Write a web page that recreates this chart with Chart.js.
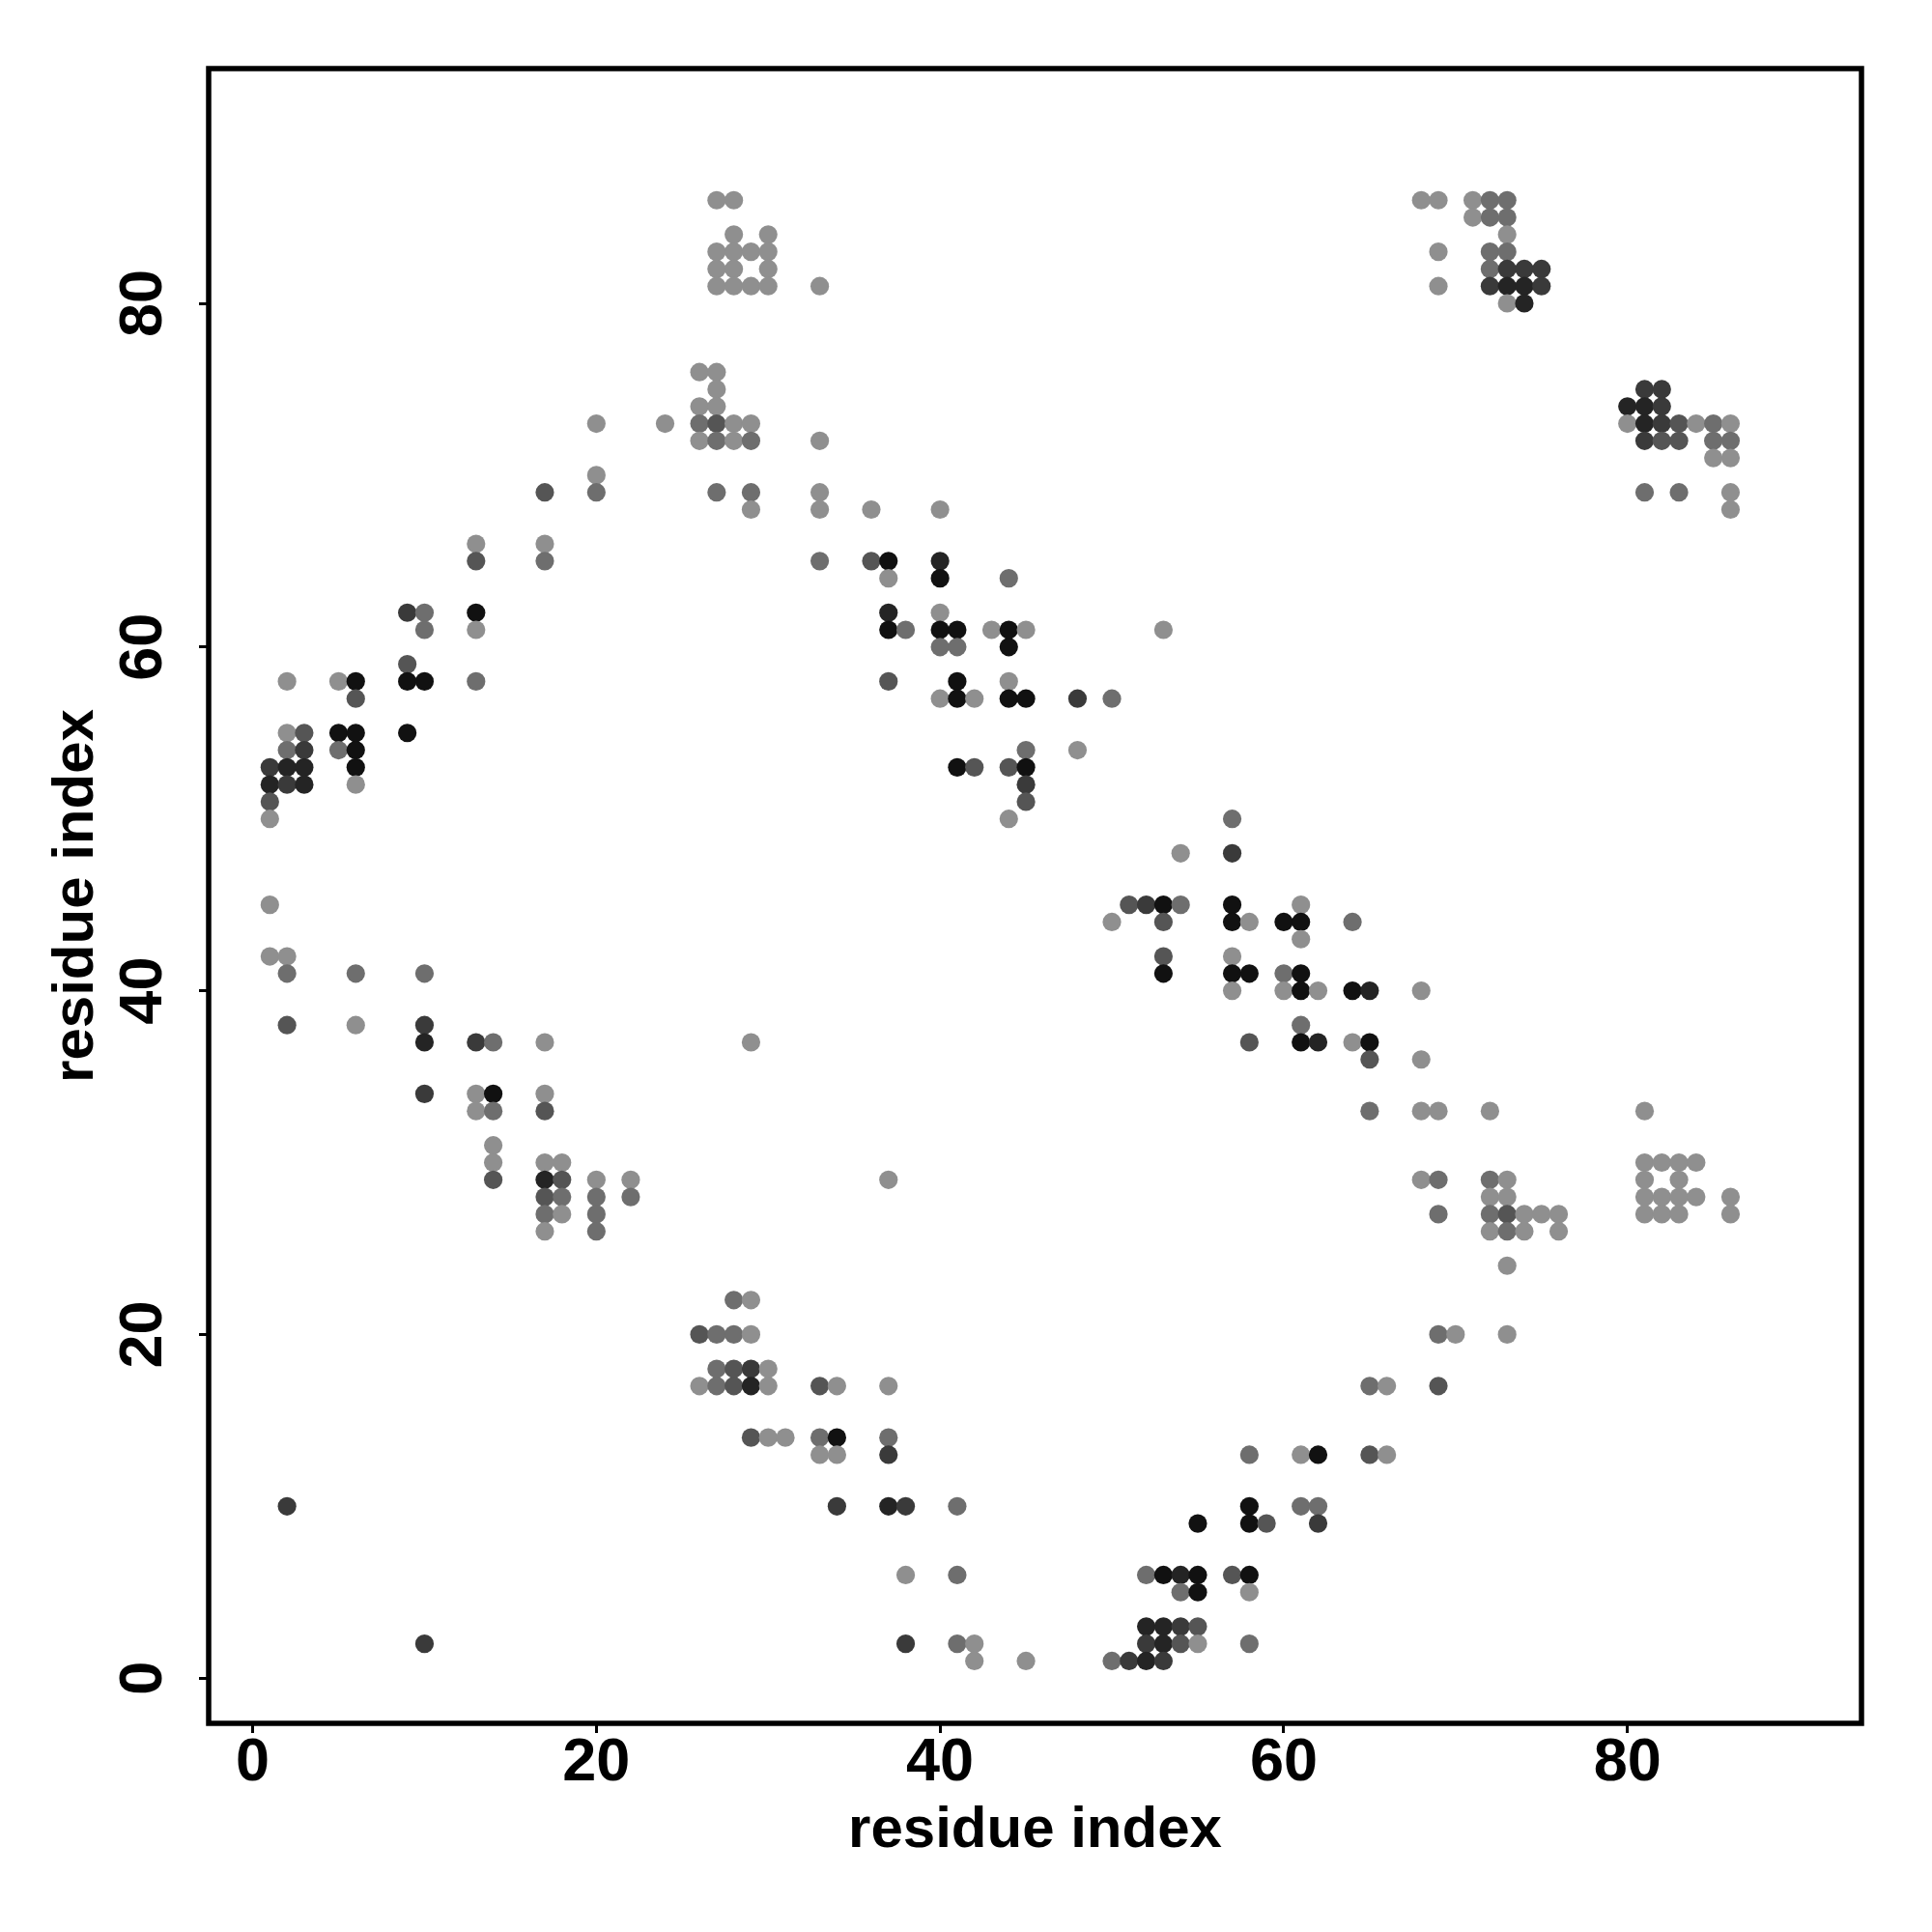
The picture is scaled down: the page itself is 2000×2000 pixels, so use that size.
<!DOCTYPE html>
<html>
<head>
<meta charset="utf-8">
<title>Contact map</title>
<script src="https://cdn.jsdelivr.net/npm/chart.js@4/dist/chart.umd.min.js"></script>
<style>
    body { margin: 0; background: #ffffff; }
    #contactChart { display: block; }
</style>
</head>
<body>
<canvas id="contactChart" width="2000" height="2000"></canvas>
<script>
// Contact map, one row per y residue index.
// rowX = x residue indices in that row, rowShade = grey level (1 darkest .. 6 lightest)
const rowY = [86, 85, 84, 83, 82, 81, 80, 76, 75, 74, 73, 72, 71, 70, 69, 68, 66, 65, 64, 62, 61, 60, 59, 58, 57,
    55, 54, 53, 52, 51, 50, 48, 45, 44, 43, 42, 41, 40, 38, 37, 36, 34, 33, 31, 30, 29, 28, 27, 26, 24, 22, 20,
    18, 17, 14, 13, 10, 9, 6, 5, 3, 2, 1];

const rowX = [
    [27, 28, 68, 69, 71, 72, 73],
    [71, 72, 73],
    [28, 30, 73],
    [27, 28, 29, 30, 69, 72, 73],
    [27, 28, 30, 72, 73, 74, 75],
    [27, 28, 29, 30, 33, 69, 72, 73, 74, 75],
    [73, 74],
    [26, 27],
    [27, 81, 82],
    [26, 27, 80, 81, 82],
    [20, 24, 26, 27, 28, 29, 80, 81, 82, 83, 84, 85, 86],
    [26, 27, 28, 29, 33, 81, 82, 83, 85, 86],
    [85, 86],
    [20],
    [17, 20, 27, 29, 33, 81, 83, 86],
    [29, 33, 36, 40, 86],
    [13, 17],
    [13, 17, 33, 36, 37, 40],
    [37, 40, 44],
    [9, 10, 13, 37, 40],
    [10, 13, 37, 38, 40, 41, 43, 44, 45, 53],
    [40, 41, 44],
    [9],
    [2, 5, 6, 9, 10, 13, 37, 41, 44],
    [6, 40, 41, 42, 44, 45, 48, 50],
    [2, 3, 5, 6, 9],
    [2, 3, 5, 6, 45, 48],
    [1, 2, 3, 6, 41, 42, 44, 45],
    [1, 2, 3, 6, 45],
    [1, 45],
    [1, 44, 57],
    [54, 57],
    [1, 51, 52, 53, 54, 57, 61],
    [50, 53, 57, 58, 60, 61, 64],
    [61],
    [1, 2, 53, 57],
    [2, 6, 10, 53, 57, 58, 60, 61],
    [57, 60, 61, 62, 64, 65, 68],
    [2, 6, 10, 61],
    [10, 13, 14, 17, 29, 58, 61, 62, 64, 65],
    [65, 68],
    [10, 13, 14, 17],
    [13, 14, 17, 65, 68, 69, 72, 81],
    [14],
    [14, 17, 18, 81, 82, 83, 84],
    [14, 17, 18, 20, 22, 37, 68, 69, 72, 73, 81, 83],
    [17, 18, 20, 22, 72, 73, 81, 82, 83, 84, 86],
    [17, 18, 20, 69, 72, 73, 74, 75, 76, 81, 82, 83, 86],
    [17, 20, 72, 73, 74, 76],
    [73],
    [28, 29],
    [26, 27, 28, 29, 69, 70, 73],
    [27, 28, 29, 30],
    [26, 27, 28, 29, 30, 33, 34, 37, 65, 66, 69],
    [29, 30, 31, 33, 34, 37],
    [33, 34, 37, 58, 61, 62, 65, 66],
    [2, 34, 37, 38, 41, 58, 61, 62],
    [55, 58, 59, 62],
    [38, 41, 52, 53, 54, 55, 57, 58],
    [54, 55, 58],
    [52, 53, 54, 55],
    [10, 38, 41, 42, 52, 53, 54, 55, 58],
    [42, 45, 50, 51, 52, 53]
];

const rowShade = [
    [6, 6, 6, 6, 6, 5, 5],
    [6, 5, 5],
    [6, 6, 6],
    [6, 6, 6, 6, 6, 5, 5],
    [6, 6, 6, 5, 3, 3, 3],
    [6, 6, 6, 6, 6, 6, 3, 2, 2, 3],
    [6, 2],
    [6, 6],
    [6, 3, 3],
    [6, 6, 2, 2, 3],
    [6, 6, 5, 4, 6, 6, 6, 2, 3, 4, 6, 5, 6],
    [6, 5, 6, 5, 6, 3, 4, 4, 5, 5],
    [6, 6],
    [6],
    [4, 5, 5, 5, 6, 5, 5, 6],
    [6, 6, 6, 6, 6],
    [6, 6],
    [4, 5, 5, 4, 1, 2],
    [6, 1, 5],
    [3, 5, 1, 2, 6],
    [5, 6, 1, 5, 1, 1, 6, 1, 6, 6],
    [5, 5, 1],
    [4],
    [6, 6, 1, 1, 1, 5, 4, 1, 6],
    [4, 6, 1, 6, 1, 1, 3, 5],
    [6, 4, 1, 1, 1],
    [5, 3, 5, 1, 5, 6],
    [3, 2, 2, 1, 1, 4, 4, 1],
    [2, 3, 2, 6, 3],
    [4, 4],
    [6, 6, 5],
    [6, 3],
    [6, 4, 3, 1, 5, 1, 6],
    [6, 4, 1, 6, 1, 1, 5],
    [6],
    [6, 6, 4, 6],
    [5, 5, 5, 1, 1, 1, 5, 1],
    [6, 6, 1, 6, 1, 2, 6],
    [4, 6, 3, 5],
    [2, 3, 5, 6, 6, 4, 1, 2, 6, 1],
    [4, 6],
    [3, 6, 1, 6],
    [6, 5, 4, 5, 6, 6, 6, 6],
    [6],
    [6, 6, 6, 6, 6, 6, 6],
    [4, 2, 4, 6, 6, 6, 6, 5, 5, 6, 6, 6],
    [4, 5, 5, 5, 6, 6, 6, 6, 6, 6, 6],
    [5, 6, 5, 5, 5, 4, 6, 6, 6, 6, 6, 6, 6],
    [6, 5, 6, 5, 6, 6],
    [6],
    [5, 6],
    [4, 5, 5, 6, 5, 6, 6],
    [5, 4, 3, 6],
    [6, 5, 4, 2, 6, 4, 6, 6, 5, 6, 4],
    [4, 6, 6, 5, 1, 5],
    [6, 6, 3, 5, 6, 1, 4, 6],
    [3, 3, 2, 3, 5, 1, 5, 5],
    [1, 1, 4, 3],
    [6, 5, 5, 1, 2, 1, 4, 1],
    [5, 1, 6],
    [2, 2, 3, 4],
    [3, 3, 5, 6, 3, 2, 4, 6, 5],
    [6, 6, 5, 3, 2, 3]
];

const axisTicks = [0, 20, 40, 60, 80];
const axisTitle = 'residue index';

const shadeColors = ['#111111', '#242424', '#3a3a3a', '#555555', '#6e6e6e', '#8f8f8f'];

const fontFamily = '"Liberation Sans", Arial, Helvetica, sans-serif';

function buildPoints() {
    const points = [];
    const colors = [];
    rowY.forEach((y, r) => {
        rowX[r].forEach((x, i) => {
            points.push({ x: x, y: y });
            colors.push(shadeColors[rowShade[r][i] - 1]);
        });
    });
    return { points, colors };
}

// Box around the plot area plus the rotated y tick labels
const framePlugin = {
    id: 'frame',
    afterDraw(chart) {
        const ctx = chart.ctx;
        const area = chart.chartArea;
        ctx.save();
        ctx.strokeStyle = '#000000';
        ctx.lineWidth = 5.5;
        ctx.strokeRect(area.left, area.top, area.right - area.left, area.bottom - area.top);

        const yScale = chart.scales.y;
        ctx.fillStyle = '#000000';
        ctx.font = 'bold 63px ' + fontFamily;
        ctx.textAlign = 'center';
        ctx.textBaseline = 'middle';
        axisTicks.forEach(v => {
            const py = yScale.getPixelForValue(v);
            ctx.save();
            ctx.translate(150, py);
            ctx.rotate(-Math.PI / 2);
            ctx.fillText(String(v), 0, 0);
            ctx.restore();
        });
        ctx.restore();
    }
};

function renderChart() {
    const ctx = document.getElementById('contactChart').getContext('2d');
    const { points, colors } = buildPoints();

    const gridOpts = {
        display: true,
        drawOnChartArea: false,
        drawTicks: true,
        tickLength: 10,
        tickWidth: 3,
        tickColor: '#000000'
    };

    new Chart(ctx, {
        type: 'scatter',
        data: {
            datasets: [{
                data: points,
                pointBackgroundColor: colors,
                pointBorderWidth: 0,
                pointRadius: 9.6,
                pointHoverRadius: 9.6
            }]
        },
        options: {
            responsive: false,
            devicePixelRatio: 1,
            animation: false,
            layout: { padding: { top: 71, right: 73, bottom: 0, left: 0 } },
            plugins: {
                legend: { display: false },
                tooltip: { enabled: false }
            },
            scales: {
                x: {
                    type: 'linear',
                    min: -2.56,
                    max: 93.62,
                    afterBuildTicks: scale => { scale.ticks = axisTicks.map(v => ({ value: v })); },
                    afterFit: scale => { scale.height = 216; },
                    grid: gridOpts,
                    border: { display: false },
                    ticks: {
                        color: '#000000',
                        padding: 0,
                        maxRotation: 0,
                        font: { family: fontFamily, size: 63, weight: 'bold', lineHeight: 1 }
                    },
                    title: {
                        display: true,
                        text: axisTitle,
                        color: '#000000',
                        padding: { top: 0, bottom: 75 },
                        font: { family: fontFamily, size: 60, weight: 'bold', lineHeight: 1 }
                    }
                },
                y: {
                    type: 'linear',
                    min: -2.63,
                    max: 93.66,
                    afterBuildTicks: scale => { scale.ticks = axisTicks.map(v => ({ value: v })); },
                    afterFit: scale => { scale.width = 216; },
                    grid: gridOpts,
                    border: { display: false },
                    ticks: { display: false },
                    title: {
                        display: true,
                        text: axisTitle,
                        color: '#000000',
                        padding: { top: 49, bottom: 0 },
                        font: { family: fontFamily, size: 60, weight: 'bold', lineHeight: 1 }
                    }
                }
            }
        },
        plugins: [framePlugin]
    });
}

document.addEventListener('DOMContentLoaded', renderChart);
</script>
</body>
</html>
